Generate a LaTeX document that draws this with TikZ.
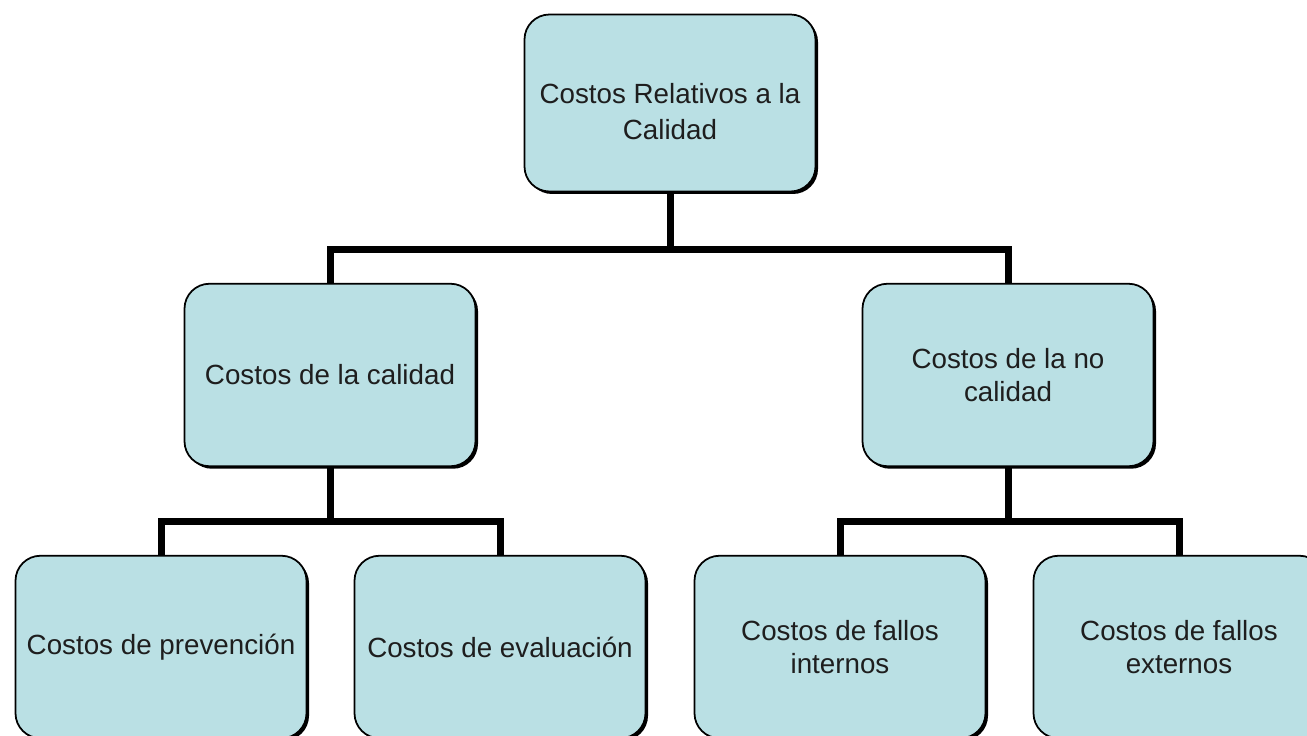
\documentclass[tikz,border=0pt]{standalone}
\usepackage{fontspec}
\setmainfont{Liberation Sans}
\usetikzlibrary{calc,shadows}

\definecolor{boxfill}{RGB}{186,224,228}
\definecolor{boxtext}{RGB}{30,30,30}

\begin{document}
\begin{tikzpicture}[
        costbox/.style={draw,line width=1pt,fill=boxfill,rounded corners=0.5cm,
            minimum width=5.82cm,minimum height=3.65cm,align=center,text=boxtext,
            font=\fontsize{15.8}{19}\selectfont,
            drop shadow={fill=black,opacity=1,shadow xshift=0.05cm,shadow yshift=-0.05cm}},
        link/.style={line width=0.14cm}]
            \path[use as bounding box] (0,0) rectangle (26.14,14.72);

            % bars between the levels
            \coordinate (bar1) at (13.4,9.72);
            \coordinate (bar2) at (6.6,4.28);
            \coordinate (bar3) at (20.16,4.28);

            \draw[link] (13.4,12.66) -- (bar1) -| (6.6,7.22);
            \draw[link] (bar1) -| (20.16,7.22);
            \draw[link] (6.6,7.22) -- (bar2) -| (3.22,1.78);
            \draw[link] (bar2) -| (10.0,1.78);
            \draw[link] (20.16,7.22) -- (bar3) -| (16.8,1.78);
            \draw[link] (bar3) -| (23.58,1.78);

            \node[costbox,minimum height=3.54cm,font=\fontsize{15.8}{20.5}\selectfont]
                (total) at (13.4,12.66) {\rule{0pt}{0.75cm}Costos Relativos a la\\Calidad};
            \node[costbox] (calidad) at (6.6,7.22) {Costos de la calidad};
            \node[costbox] (nocalidad) at (20.16,7.22) {Costos de la no\\calidad};

            \node[costbox] (prev) at (3.22,1.78) {Costos de prevención};
            \node[costbox] (eval) at (10.0,1.78) {Costos de evaluación};
            \node[costbox] (interno) at (16.8,1.78) {Costos de fallos\\internos};
            \node[costbox] (externo) at (23.58,1.78) {Costos de fallos\\externos};
        \end{tikzpicture}
\end{document}
